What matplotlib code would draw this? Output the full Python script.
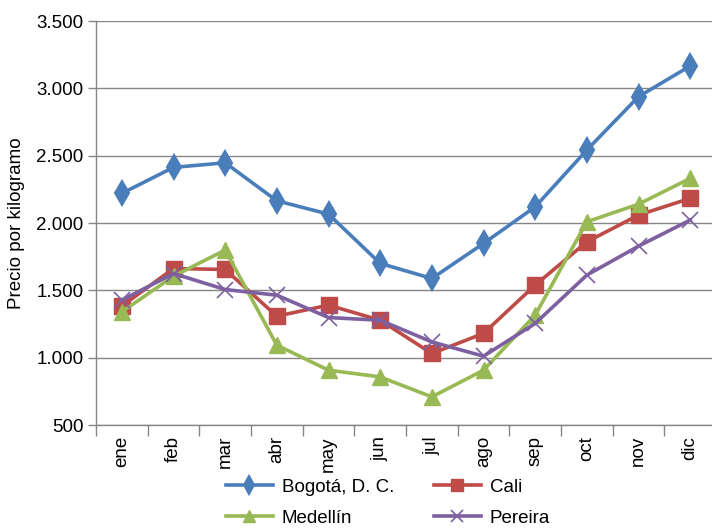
import matplotlib
matplotlib.use("Agg")
import matplotlib.pyplot as plt
from matplotlib.ticker import FuncFormatter

months = ["ene", "feb", "mar", "abr", "may", "jun", "jul", "ago", "sep", "oct", "nov", "dic"]
bogota = [2220, 2413, 2447, 2165, 2066, 1700, 1588, 1848, 2120, 2542, 2938, 3166]
cali = [1383, 1662, 1655, 1308, 1390, 1278, 1031, 1180, 1539, 1860, 2059, 2183]
medellin = [1340, 1605, 1799, 1093, 907, 857, 709, 907, 1316, 2009, 2140, 2331]
pereira = [1427, 1625, 1506, 1464, 1298, 1278, 1117, 1011, 1254, 1613, 1828, 2022]
series_names = ["Bogotá, D. C.", "Cali", "Medellín", "Pereira"]
y_label = "Precio por kilogramo"

plt.rcParams['font.family'] = ['Liberation Sans', 'DejaVu Sans']

W, H = 712, 529
fig = plt.figure(figsize=(W / 100, H / 100), dpi=100)
ax = fig.add_axes([96 / W, (H - 425) / H, 620 / W, 404 / H])

x = list(range(len(months)))
grid_c = "#868686"
lw = 2.6
l1, = ax.plot(x, bogota, color="#4A7EBB", lw=lw, marker="d", ms=12, mew=1.5, label=series_names[0], zorder=3)
l2, = ax.plot(x, cali, color="#BE4B48", lw=lw, marker="s", ms=11, label=series_names[1], zorder=3)
l3, = ax.plot(x, medellin, color="#98B954", lw=lw, marker="^", ms=11.5, label=series_names[2], zorder=3)
l4, = ax.plot(x, pereira, color="#7D60A0", lw=lw, marker="x", ms=11, mew=1.2, label=series_names[3], zorder=4)

ax.set_xlim(-0.5, len(months) - 0.5)
ax.set_ylim(500, 3500)
ax.set_yticks(range(500, 3501, 500))
ax.yaxis.set_major_formatter(FuncFormatter(lambda v, p: f"{int(v):,}".replace(",", ".")))
ax.grid(axis="y", color=grid_c, lw=1.0)
ax.set_axisbelow(True)

ax.set_xticks(x)
ax.set_xticklabels(months, rotation=90, fontsize=13.5)
ax.set_xticks([i - 0.5 for i in range(len(months) + 1)], minor=True)
ax.tick_params(axis="x", which="major", length=0, pad=8)
ax.tick_params(axis="x", which="minor", length=8, color=grid_c, width=1)
ax.tick_params(axis="y", length=6, color=grid_c, width=1, labelsize=13.5, pad=3)

for s in ["top", "right"]:
    ax.spines[s].set_visible(False)
for s in ["left", "bottom"]:
    ax.spines[s].set_color(grid_c)
    ax.spines[s].set_linewidth(1.0)

ax.set_ylabel(y_label, fontsize=13.5)
ax.yaxis.set_label_coords(-0.115, 0.5)

fig.legend(handles=[l1, l3, l2, l4], labels=[series_names[0], series_names[2], series_names[1], series_names[3]],
           ncol=2, loc="center", bbox_to_anchor=(0.545, 0.05), frameon=False,
           fontsize=13.5, handlelength=2.5, columnspacing=2.1, labelspacing=0.75,
           handletextpad=0.5, markerscale=0.75)

fig.savefig("out.png", dpi=100)
